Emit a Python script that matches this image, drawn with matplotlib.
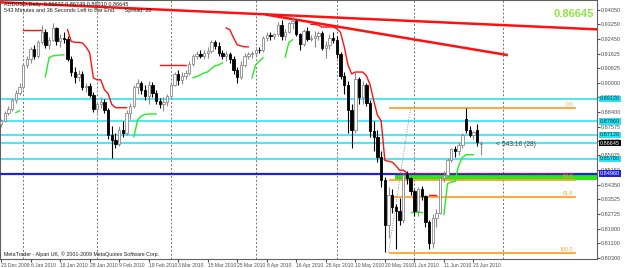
import numpy as np
import pandas as pd
import matplotlib
matplotlib.use("Agg")
import matplotlib.pyplot as plt
from matplotlib.patches import Rectangle

plt.rcParams['font.family'] = ['Liberation Sans', 'DejaVu Sans']

# Daily bars (weekdays, Christmas and New Year missing)
dates = pd.bdate_range("2009-12-23", "2010-06-25")
dates = dates.drop([pd.Timestamp("2009-12-25"), pd.Timestamp("2010-01-01")])

opens = [.8770, .8790, .8835, .8855, .8905, .8945, .8975, .9100, .9130, .9190,
         .9150, .9225, .9285, .9210, .9240, .9305, .9230, .9250, .9245, .9130,
         .9060, .9030, .9050, .8975, .8985, .8935, .8855, .8880, .8895, .8850,
         .8710, .8685, .8660, .8740, .8720, .8830, .8870, .8975, .9000, .8960,
         .8925, .8990, .8945, .8900, .8885, .8895, .8925, .8990, .9050, .9015,
         .9040, .9055, .9105, .9150, .9160, .9150, .9165, .9175, .9225, .9205,
         .9165, .9150, .9160, .9130, .9070, .9030, .9100, .9150, .9160, .9165,
         .9185, .9180, .9250, .9265, .9260, .9270, .9320, .9260, .9285, .9330,
         .9345, .9270, .9215, .9290, .9245, .9250, .9260, .9275, .9195, .9210,
         .9250, .9240, .9160, .9040, .8990, .8850, .8740, .9020, .8920, .8990,
         .8890, .8730, .8700, .8590, .8460, .8210, .8380, .8310, .8290, .8240,
         .8490, .8470, .8400, .8290, .8410, .8370, .8225, .8110, .8250, .8280,
         .8470, .8490, .8570, .8630, .8620, .8655, .8800, .8740, .8710, .8740,
         .86632]
highs = [.8800, .8845, .8870, .8915, .8960, .9000, .9110, .9150, .9200, .9210,
         .9240, .9320, .9300, .9255, .9330, .9310, .9270, .9280, .9260, .9150,
         .9090, .9070, .9065, .9000, .9000, .8950, .8895, .8920, .8910, .8860,
         .8760, .8720, .8760, .8790, .8850, .8890, .8990, .9020, .9010, .8990,
         .9010, .9005, .8960, .8915, .8920, .8940, .9000, .9060, .9070, .9060,
         .9070, .9120, .9160, .9175, .9180, .9185, .9200, .9240, .9240, .9225,
         .9180, .9175, .9170, .9150, .9090, .9120, .9165, .9170, .9175, .9200,
         .9200, .9260, .9285, .9280, .9275, .9340, .9350, .9300, .9340, .9375,
         .9350, .9275, .9300, .9310, .9265, .9290, .9290, .9290, .9230, .9270,
         .9280, .9260, .9170, .9060, .9010, .8880, .9060, .9030, .9010, .9000,
         .8905, .8790, .8740, .8620, .8480, .8420, .8410, .8330, .8360, .8500,
         .8510, .8480, .8410, .8420, .8425, .8380, .8240, .8270, .8300, .8480,
         .8510, .8580, .8640, .8650, .8670, .8720, .8862, .8760, .8730, .8770,
         .86749]
lows = [.8755, .8780, .8820, .8845, .8890, .8930, .8965, .9080, .9110, .9130,
        .9140, .9215, .9195, .9190, .9235, .9210, .9200, .9220, .9120, .9040,
        .9000, .9010, .8960, .8950, .8920, .8840, .8835, .8860, .8830, .8690,
        .8580, .8640, .8650, .8700, .8710, .8800, .8860, .8940, .8940, .8905,
        .8880, .8920, .8880, .8860, .8845, .8870, .8915, .8980, .8990, .8995,
        .9020, .9045, .9095, .9130, .9140, .9135, .9140, .9165, .9190, .9150,
        .9130, .9120, .9110, .9050, .9000, .9020, .9090, .9130, .9140, .9150,
        .9165, .9170, .9230, .9240, .9245, .9260, .9240, .9240, .9275, .9300,
        .9260, .9180, .9205, .9230, .9230, .9200, .9240, .9180, .9140, .9190,
        .9220, .9140, .9020, .8940, .8720, .8640, .8720, .8880, .8880, .8870,
        .8700, .8620, .8560, .8420, .8060, .8140, .8280, .8075, .8210, .8220,
        .8440, .8380, .8260, .8260, .8350, .8200, .8080, .8085, .8200, .8270,
        .8450, .8480, .8560, .8590, .8600, .8640, .8720, .8700, .8690, .8650,
        .86010]
closes = [.8790, .8835, .8855, .8905, .8945, .8975, .9100, .9130, .9190, .9150,
          .9225, .9285, .9210, .9240, .9305, .9230, .9250, .9245, .9130, .9060,
          .9030, .9050, .8975, .8985, .8935, .8855, .8880, .8895, .8850, .8710,
          .8685, .8660, .8740, .8720, .8830, .8870, .8975, .9000, .8960, .8925,
          .8990, .8945, .8900, .8885, .8895, .8925, .8990, .9050, .9015, .9040,
          .9055, .9105, .9150, .9160, .9150, .9165, .9175, .9225, .9205, .9165,
          .9150, .9160, .9130, .9070, .9030, .9100, .9150, .9160, .9165, .9185,
          .9180, .9250, .9265, .9260, .9270, .9320, .9260, .9285, .9330, .9345,
          .9270, .9215, .9290, .9245, .9250, .9260, .9275, .9195, .9210, .9250,
          .9240, .9160, .9040, .8990, .8850, .8740, .9020, .8920, .8990, .8890,
          .8730, .8700, .8590, .8460, .8210, .8380, .8310, .8290, .8240, .8490,
          .8470, .8400, .8290, .8410, .8370, .8225, .8110, .8250, .8280, .8470,
          .8490, .8570, .8630, .8620, .8655, .8710, .8740, .8710, .8725, .8670,
          .86645]

# trailing stop segments: (first bar, values)
red_stops = [
    (6, [.9295, .9295, .9295, .9295, .9295, .9295]),
    (18, [.9295, .9230, .9225, .9225, .9222, .9200, .9167, .9028, .9017, .9017,
          .8962, .8940, .8880, .8862, .8862, .8862, .8862]),
    (43, [.9100, .9100, .9100, .9100, .9100, .9100, .9100, .9100]),
    (61, [.9305, .9294, .9250, .9211, .9205, .9200, .9200]),
    (84, [.9325, .9325, .9320, .9310, .9310, .9310, .9310, .9300, .9280, .9200,
          .9100, .9050, .9060, .9060, .9060, .9040, .8990, .8900, .8820, .8790,
          .8570, .8565, .8560, .8540, .8515, .8515, .8500]),
    (116, [.8379, .8379, .8379]),
]
green_stops = [
    (4, [.8835, .8845]),
    (12, [.9034, .9140, .9150, .9152, .9155, .9155]),
    (36, [.8700, .8795, .8815, .8825, .8827, .8827, .8827]),
    (52, [.9028, .9035, .9045, .9055, .9061, .9080, .9095, .9100, .9111]),
    (68, [.9028, .9100, .9120, .9139]),
    (77, [.9144, .9225, .9239]),
    (111, [.8285, .8285, .8285, .8285]),
    (120, [.8268, .8440, .8450, .8452, .8540, .8585, .8601, .8601, .8601]),
]

trend1_bars, trend1_prices = [-0.3, 161.5], [.9447, .9297]
trend2_bars, trend2_prices = [72, 137], [.9378, .9155]

cyan_levels = [.8912, .8786, .8712, .8667, .8578]
blue_level = .8496
zone_low, zone_high, zone_start = .8462, .8501, 106.8

fib_high, fib_low = .8862, .8058
fib_levels = [0.0, 50.0, 61.8, 100.0]
fib_start, fib_end = 105.5, 155.5
fib_link_bars = [105.0, 111.0]

price_ticks = [0.94050, 0.93250, 0.92450, 0.91625, 0.90825, 0.90000, 0.89200,
               0.88400, 0.87575, 0.86775, 0.85975, 0.85150, 0.84350, 0.83525,
               0.82725, 0.81900, 0.81100, 0.80300]
month_grid = [6, 26, 46, 69, 91, 112, 136]

bid = closes[-1]

fig = plt.figure(figsize=(6.25, 2.68), dpi=100)
ax = fig.add_axes([0.0, 9 / 268, 597 / 625, 259 / 268])
ax.set_xlim(-0.3, 161.5)
ax.set_ylim(0.8022, 0.9460)

for g in month_grid:
    ax.axvline(g, color='#707070', lw=0.7, ls=(0, (2, 2)), zorder=1)

# levels
for lv in cyan_levels:
    ax.axhline(lv, color='#30e0f0', lw=1.2, zorder=2)
ax.add_patch(Rectangle((zone_start, zone_low), 200, zone_high - zone_low,
                       facecolor='#2fe612', edgecolor='none', zorder=2))
ax.axhline(blue_level, color='#2020e8', lw=1.6, zorder=3)
ax.plot([zone_start, 155.5], [zone_high, zone_high], color='#ff2020', lw=0.8,
        ls=(0, (1, 1)), zorder=4)

for lvl in fib_levels:
    price = fib_high - lvl / 100 * (fib_high - fib_low)
    ax.plot([fib_start, fib_end], [price, price], color='#ffa030', lw=1.3, zorder=4)
    ax.text(fib_end - 0.5, price + 0.0004, f"{lvl:.1f}", color='#ffa030',
            fontsize=3.8, ha='right', va='bottom', zorder=5)
ax.plot(fib_link_bars, [fib_low, fib_high], color='#909090', lw=0.7,
        ls=(0, (1, 1.5)), zorder=4)

# trend lines
ax.plot(trend1_bars, trend1_prices, color='#ff1010', lw=1.8, zorder=6)
ax.plot(trend2_bars, trend2_prices, color='#ff1010', lw=1.8, zorder=6)

# stops
for start, vals in red_stops:
    ax.plot(range(start, start + len(vals)), vals, color='#ff1010', lw=1.0, zorder=6)
for start, vals in green_stops:
    ax.plot(range(start, start + len(vals)), vals, color='#22ee22', lw=1.0, zorder=6)

# candles
x = np.arange(len(closes))
for i in x:
    o, h, l, c = opens[i], highs[i], lows[i], closes[i]
    up = c >= o
    col = '#8a8a8a' if up else '#000000'
    ax.vlines(i, l, h, colors=col, lw=0.8, zorder=7)
    body = max(abs(c - o), 0.00025)
    ax.add_patch(Rectangle((i - 0.32, min(o, c)), 0.64, body,
                           facecolor='white' if up else 'black',
                           edgecolor=col, lw=0.6, zorder=8))

ax.text(134, bid - 0.0006, "< 543:16 (28)", fontsize=4.8, color='#404040',
        va='center', ha='left', zorder=9)

# axes look
for s in ax.spines.values():
    s.set_color('#606060')
    s.set_linewidth(0.8)
ax.yaxis.tick_right()
ax.set_yticks(price_ticks)
ax.set_yticklabels([f"{v:.5f}" for v in price_ticks])
ax.tick_params(axis='y', labelsize=4.0, length=2, pad=1, colors='#505050')

xt = list(range(0, len(dates) - 2, 8))
ax.set_xticks(xt)
ax.set_xticklabels([f"{dates[i].day} {dates[i].strftime('%b %Y')}" for i in xt])
ax.tick_params(axis='x', labelsize=3.6, length=2, pad=1, colors='#505050')
for lbl in ax.get_xticklabels():
    lbl.set_ha('left')

# axis price boxes
def price_box(price, fc, tc):
    ax.annotate(f"{price:.5f}", xy=(1.0, price), xycoords=('axes fraction', 'data'),
                xytext=(2.2, 0), textcoords='offset points', fontsize=4.0,
                color=tc, va='center', ha='left', annotation_clip=False,
                bbox=dict(boxstyle='square,pad=0.12', fc=fc, ec='none'), zorder=10)

for lv in cyan_levels:
    if abs(lv - bid) > 0.0005:
        price_box(lv, '#30e0f0', '#004050')
price_box(bid, 'black', 'white')
price_box(blue_level, '#2020e8', 'white')

# header texts
ax.text(0.006, 0.993, f"AUDUSD,Daily  {opens[-1]:.5f} {highs[-1]:.5f} {lows[-1]:.5f} {closes[-1]:.5f}",
        transform=ax.transAxes, fontsize=4.0, va='top', ha='left', color='#202020', zorder=9)
ax.text(0.006, 0.968, "543 Minutes and 36 Seconds Left to Bar End.      Spread: 28",
        transform=ax.transAxes, fontsize=4.0, va='top', ha='left', color='#202020', zorder=9)
ax.text(0.995, 0.945, f"{bid:.5f}", transform=ax.transAxes, fontsize=8,
        fontweight='bold', color='#8ee53f', ha='right', va='center', zorder=9)
ax.text(0.006, 0.006, "MetaTrader - Alpari UK, \u00a9 2001-2009 MetaQuotes Software Corp.",
        transform=ax.transAxes, fontsize=3.8, va='bottom', ha='left', color='#202020', zorder=9)

fig.savefig("out.png", dpi=100, facecolor='white')
